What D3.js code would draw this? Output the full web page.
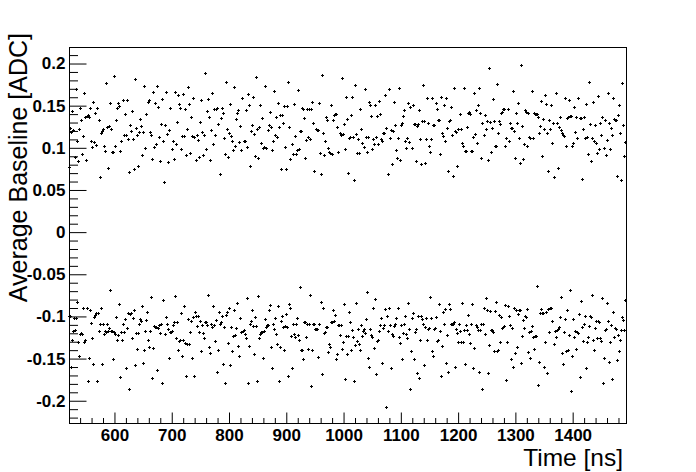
<!DOCTYPE html>
<html>
<head>
<meta charset="utf-8">
<script src="https://cdn.jsdelivr.net/npm/d3@7"></script>
<style>
  body { margin: 0; background: #fff; }
  svg { display: block; }
</style>
</head>
<body>
<script>
// Time range covered by the samples (ns)
const tFirst = 522;
const tLast = 1493;

// Average baseline of the upper band [ADC], in time order
const upperBand = [
  .077,.123,.118,.143,.120,.088,.169,.107,.084,.122,.147,.132,.092,.113,.164,.136,.085,.137,.138,.136,
  .147,.107,.100,.154,.106,.141,.103,.147,.132,.065,.117,.119,.122,.101,.096,.176,.124,.075,.125,.152,
  .122,.095,.094,.185,.101,.133,.147,.153,.149,.096,.107,.156,.115,.140,.115,.156,.110,.071,.126,.119,
  .143,.110,.074,.181,.123,.115,.078,.118,.134,.125,.091,.118,.173,.099,.139,.154,.156,.118,.115,.086,
  .166,.100,.152,.104,.173,.148,.112,.084,.128,.157,.107,.059,.126,.166,.116,.082,.120,.147,.098,.108,
  .086,.166,.104,.130,.162,.151,.147,.098,.113,.163,.114,.145,.091,.122,.172,.151,.093,.136,.113,.158,
  .112,.085,.115,.109,.088,.130,.156,.118,.091,.115,.188,.098,.143,.157,.136,.085,.120,.164,.104,.145,
  .115,.146,.147,.128,.068,.135,.147,.141,.111,.092,.178,.122,.088,.117,.151,.114,.108,.097,.172,.101,
  .134,.141,.144,.106,.125,.097,.158,.108,.108,.144,
  .100,.163,.150,.078,.119,.126,.160,.116,.090,.183,.122,.087,.124,.150,.105,.135,.099,.100,.173,.099,
  .120,.126,.142,.124,.097,.107,.167,.115,.136,.112,.153,.124,.138,.074,.138,.129,.149,.100,.074,.149,
  .177,.124,.086,.104,.092,.151,.113,.092,.097,.168,.098,.119,.119,.147,.145,.135,.087,.109,.145,.112,
  .145,.110,.145,.154,.129,.072,.122,.121,.121,.153,.093,.068,.186,.117,.091,.107,.136,.132,.099,.095,
  .093,.150,.092,.133,.138,.139,.140,.124,.094,.117,.115,.182,.116,.128,.098,.160,.134,.069,.111,.112,
  .138,.160,.112,.061,.174,.116,.093,.110,.093,.145,.122,.105,.100,.169,.112,.094,.112,.154,.150,.137,
  .098,.110,.104,.150,.112,.137,.104,.155,.139,.110,.107,.117,.117,.162,.123,.068,.169,.111,.120,.080,
  .119,.154,.126,.097,.087,.111,.170,.085,.126,.129,.137,.144,.107,.099,.111,.152,.106,.148,.099,.150,
  .128,.128,.084,.125,.128,.144,.110,.080,.131,.174,.131,.081,.110,.158,.129,.101,.094,.110,.158,.126,
  .126,.153,.145,.132,
  .132,.092,.160,.117,.113,.150,.107,.158,.123,.072,.131,.132,.148,.115,.066,.170,.119,.118,.078,.122,
  .139,.122,.105,.101,.170,.096,.096,.124,.141,.142,.139,.096,.096,.112,.164,.116,.144,.105,.150,.170,
  .141,.087,.129,.115,.138,.122,.131,.085,.194,.130,.094,.123,.157,.131,.102,.102,.175,.117,.131,.128,
  .141,.142,.145,.145,.102,.111,.145,.107,.129,.123,.123,.167,.119,.087,.141,.129,.153,.111,.081,.198,
  .125,.086,.104,.144,.142,.102,.141,.112,.111,.167,.111,.141,.139,.140,.139,.136,.117,.125,.155,.090,
  .134,.122,.162,.151,.117,.072,.132,.122,.150,.105,.129,.065,.164,.129,.075,.124,.136,.120,.117,.115,
  .113,.158,.102,.135,.136,.156,.137,.137,.102,.105,.148,.118,.136,.111,.158,.135,.135,.063,.122,.136,
  .111,.151,.112,.092,.177,.128,.084,.111,.154,.107,.126,.105,.093,.161,.098,.129,.115,.136,.099,.133,
  .091,.109,.164,.129,.098,.123,.115,.158,.134,.133,.132,.066,.138,.150,.117,.061,.176,.126,.090,.106
];

// Average baseline of the lower band [ADC], in time order
const lowerBand = [
  -.100,-.100,-.160,-.129,-.118,-.102,-.117,-.103,-.084,-.131,-.147,-.122,-.120,-.121,-.090,-.131,-.128,-.091,-.177,-.150,
  -.093,-.108,-.126,-.157,-.101,-.099,-.097,-.177,-.097,-.118,-.109,-.091,-.157,-.109,-.121,-.118,-.119,-.109,-.118,-.114,
  -.069,-.118,-.118,-.151,-.119,-.122,-.101,-.128,-.123,-.086,-.173,-.119,-.129,-.109,-.119,-.104,-.162,-.114,-.097,-.187,
  -.098,-.097,-.126,-.103,-.093,-.158,-.120,-.139,-.120,-.109,-.104,-.106,-.088,-.156,-.141,-.118,-.105,-.095,-.129,-.137,
  -.118,-.078,-.174,-.138,-.112,-.113,-.113,-.164,-.114,-.111,-.120,-.109,-.179,-.081,-.122,-.101,-.109,-.116,-.150,-.119,
  -.119,-.118,-.111,-.107,-.076,-.126,-.107,-.141,-.130,-.129,-.097,-.147,-.128,-.088,-.132,-.171,-.133,-.104,-.133,-.119,
  -.106,-.150,-.101,-.171,-.095,-.100,-.112,-.100,-.119,-.106,-.142,-.111,-.120,-.126,-.107,-.107,-.111,-.075,-.137,-.144,
  -.109,-.113,-.088,-.111,-.130,-.105,-.166,-.141,-.095,-.109,-.107,-.100,-.157,-.113,-.180,-.099,-.095,-.132,-.090,-.158,
  -.113,-.142,-.124,-.093,-.123,-.114,-.085,-.136,-.147,-.103,-.119,-.118,-.117,-.122,-.126,-.079,-.180,-.136,-.109,-.106,
  -.093,-.112,-.145,-.101,
  -.112,-.177,-.076,-.126,-.122,-.119,-.119,-.150,-.118,-.104,-.113,-.111,-.111,-.093,-.087,-.137,-.162,-.110,-.116,-.102,
  -.122,-.133,-.088,-.177,-.137,-.106,-.100,-.113,-.141,-.112,-.098,-.113,-.171,-.086,-.090,-.124,-.162,-.109,-.122,-.125,
  -.110,-.103,-.123,-.129,-.066,-.141,-.141,-.151,-.107,-.107,-.125,-.109,-.139,-.110,-.075,-.183,-.141,-.110,-.110,-.116,
  -.116,-.116,-.149,-.110,-.084,-.169,-.090,-.120,-.119,-.113,-.113,-.143,-.133,-.137,-.107,-.107,-.093,-.106,-.099,-.151,
  -.145,-.111,-.111,-.123,-.111,-.139,-.131,-.086,-.175,-.124,-.145,-.124,-.095,-.107,-.141,-.117,-.125,-.177,-.134,-.085,
  -.130,-.116,-.133,-.141,-.111,-.124,-.118,-.116,-.120,-.104,-.072,-.150,-.160,-.116,-.123,-.125,-.091,-.138,-.080,-.169,
  -.130,-.129,-.118,-.111,-.103,-.156,-.114,-.111,-.092,-.208,-.100,-.118,-.091,-.111,-.162,-.122,-.124,-.112,-.109,-.103,
  -.090,-.125,-.132,-.111,-.151,-.120,-.109,-.100,-.122,-.126,-.085,-.116,-.187,-.142,-.103,-.097,-.151,-.119,-.115,-.168,
  -.100,-.174,-.129,-.100,-.104,-.109,-.158,-.113,-.103,-.128,-.116,-.114,-.078,-.103,-.142,-.148,-.116,-.114,-.101,-.130,
  -.128,-.086,-.118,-.171,-.136,
  -.095,-.109,-.092,-.156,-.123,-.167,-.086,-.092,-.109,-.109,-.110,-.107,-.160,-.116,-.120,-.131,-.110,-.118,-.131,-.085,
  -.131,-.117,-.157,-.111,-.117,-.099,-.122,-.132,-.110,-.086,-.162,-.138,-.111,-.113,-.117,-.167,-.117,-.110,-.187,-.110,
  -.091,-.122,-.079,-.093,-.168,-.135,-.094,-.117,-.117,-.119,-.142,-.094,-.084,-.142,-.141,-.099,-.131,-.101,-.114,-.113,
  -.112,-.087,-.176,-.131,-.088,-.100,-.111,-.151,-.114,-.160,-.090,-.144,-.093,-.137,-.098,-.093,-.093,-.156,-.124,-.105,
  -.114,-.100,-.101,-.092,-.143,-.119,-.150,-.118,-.112,-.125,-.139,-.124,-.124,-.065,-.182,-.155,-.097,-.092,-.097,-.097,
  -.160,-.131,-.095,-.168,-.092,-.119,-.091,-.091,-.106,-.133,-.118,-.125,-.117,-.116,-.113,-.101,-.078,-.144,-.157,-.119,
  -.104,-.142,-.093,-.141,-.123,-.069,-.189,-.147,-.104,-.125,-.118,-.139,-.119,-.120,-.098,-.173,-.082,-.113,-.130,-.109,
  -.100,-.162,-.131,-.125,-.112,-.100,-.101,-.075,-.129,-.141,-.114,-.106,-.126,-.106,-.107,-.126,-.130,-.079,-.180,-.150,
  -.117,-.116,-.085,-.106,-.155,-.131,-.111,-.175,-.095,-.125,-.114,-.116,-.152,-.123,-.142,-.129,-.117,-.101,-.105,-.117,
  -.081
];

// Axis tick labels
const xTicks = [600, 700, 800, 900, 1000, 1100, 1200, 1300, 1400];
const yTicks = [-0.2, -0.15, -0.1, -0.05, 0, 0.05, 0.1, 0.15, 0.2];

const w = 696;
const h = 472;
const frameLeft = 69.5, frameRight = 626.5, frameTop = 47.5, frameBottom = 423.5;

const svg = d3.select("body").append("svg").attr("width", w).attr("height", h);

const xScale = d3.scaleLinear().domain([521.5, 1494]).range([frameLeft, frameRight]);
const yScale = d3.scaleLinear().domain([-0.227, 0.219]).range([frameBottom, frameTop]);

//Turns a band of values into time/value pairs spread over the sampled window.
function toPoints(band) {
    const step = (tLast - tFirst) / (band.length - 1);
    return band.map((v, i) => [tFirst + i * step, v]);
}
const points = toPoints(upperBand).concat(toPoints(lowerBand));

//Minor ticks first, then major ticks with labels.
const xMinor = d3.range(540, 1494, 20).filter(t => t % 100 !== 0);
const yMinor = d3.range(-22, 22).map(v => v / 100).filter(v => Math.round(v * 100) % 5 !== 0);

svg.append("g")
    .attr("transform", "translate(0," + frameBottom + ")")
    .call(d3.axisBottom(xScale).tickValues(xMinor).tickSize(-5.5).tickFormat(""))
    .call(g => g.select(".domain").remove());

svg.append("g")
    .attr("class", "axis")
    .attr("transform", "translate(0," + frameBottom + ")")
    .call(d3.axisBottom(xScale).tickValues(xTicks).tickSize(-11).tickPadding(5).tickFormat(d3.format("d")))
    .call(g => g.select(".domain").remove());

svg.append("g")
    .attr("transform", "translate(" + frameLeft + ",0)")
    .call(d3.axisLeft(yScale).tickValues(yMinor).tickSize(-8.5).tickFormat(""))
    .call(g => g.select(".domain").remove());

svg.append("g")
    .attr("class", "axis")
    .attr("transform", "translate(" + frameLeft + ",0)")
    .call(d3.axisLeft(yScale).tickValues(yTicks).tickSize(-17).tickPadding(4)
        .tickFormat(d => String(+d.toFixed(2))))
    .call(g => g.select(".domain").remove());

svg.selectAll(".axis text")
    .attr("font-family", "'Liberation Sans', Arial, sans-serif")
    .attr("font-weight", "bold")
    .attr("font-size", 17)
    .attr("fill", "#000");
svg.selectAll(".tick line").attr("stroke", "#000");

//Plot frame
svg.append("rect")
    .attr("x", frameLeft).attr("y", frameTop)
    .attr("width", frameRight - frameLeft).attr("height", frameBottom - frameTop)
    .attr("fill", "none").attr("stroke", "#000").attr("stroke-width", 1);

//Small plus markers, one per sample
svg.append("g").selectAll("path")
    .data(points)
    .enter()
    .append("path")
    .attr("d", d => {
        const cx = Math.floor(xScale(d[0]));
        const cy = Math.floor(yScale(d[1]));
        return "M" + (cx - 1) + "," + (cy + 0.5) + "h3M" + (cx + 0.5) + "," + (cy - 1) + "v3";
    })
    .attr("stroke", "#000")
    .attr("stroke-width", 1)
    .attr("shape-rendering", "crispEdges");

svg.append("text")
    .attr("x", 623)
    .attr("y", 466)
    .attr("text-anchor", "end")
    .attr("font-family", "'Liberation Sans', Arial, sans-serif")
    .attr("font-size", 24.5)
    .text("Time [ns]");

svg.append("text")
    .attr("transform", "translate(26.5,33) rotate(-90)")
    .attr("text-anchor", "end")
    .attr("font-family", "'Liberation Sans', Arial, sans-serif")
    .attr("font-size", 25)
    .text("Average Baseline [ADC]");
</script>
</body>
</html>
